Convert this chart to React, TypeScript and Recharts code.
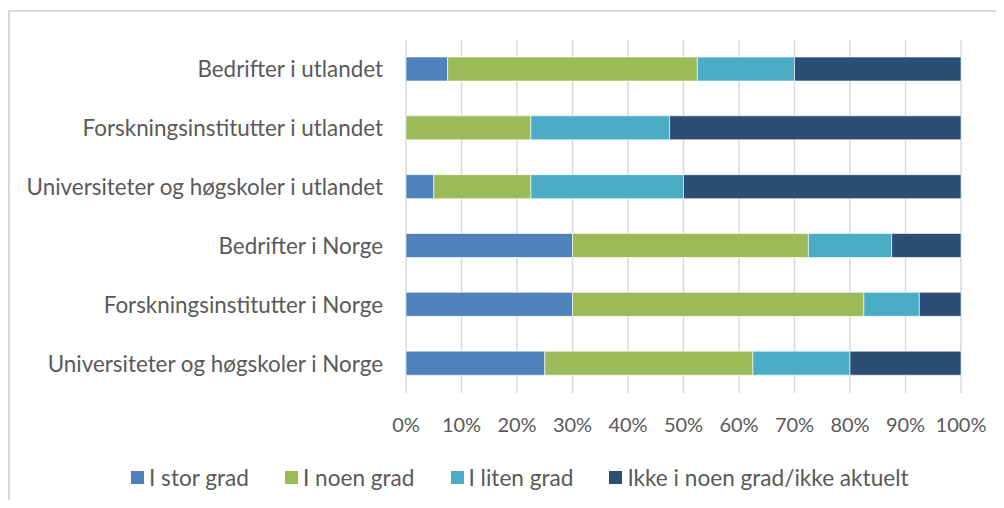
import { BarChart, Bar, XAxis, YAxis, CartesianGrid, Legend } from 'recharts'

const categories = [
  'Bedrifter i utlandet',
  'Forskningsinstitutter i utlandet',
  'Universiteter og høgskoler i utlandet',
  'Bedrifter i Norge',
  'Forskningsinstitutter i Norge',
  'Universiteter og høgskoler i Norge',
]

const seriesNames = ['I stor grad', 'I noen grad', 'I liten grad', 'Ikke i noen grad/ikke aktuelt']
const seriesColors = ['#4F81BD', '#9BBB59', '#4BACC6', '#2C4D75']

// percent per category, top to bottom
const storGrad    = [7.5, 0, 5, 30, 30, 25]
const noenGrad    = [45, 22.5, 17.5, 42.5, 52.5, 37.5]
const litenGrad   = [17.5, 25, 27.5, 15, 10, 17.5]
const ikkeAktuelt = [30, 52.5, 50, 12.5, 7.5, 20]

const xTicks = [0, 10, 20, 30, 40, 50, 60, 70, 80, 90, 100]

const data = categories.map((name, i) => ({
  name,
  s0: storGrad[i],
  s1: noenGrad[i],
  s2: litenGrad[i],
  s3: ikkeAktuelt[i],
}))

const FONT = 'Lato, "Open Sans", sans-serif'
const TEXT = '#595959'

const renderLegend = () => (
  <div style={{ display: 'flex', fontFamily: FONT, fontSize: 22.6, color: TEXT }}>
    {seriesNames.map((n, i) => (
      <div key={n} style={{ display: 'flex', alignItems: 'center', marginRight: 36 }}>
        <span style={{ width: 13, height: 13, background: seriesColors[i], marginRight: 5, display: 'inline-block' }} />
        <span>{n}</span>
      </div>
    ))}
  </div>
)

export default function App() {
  return (
    <div style={{ position: 'relative', width: 996, height: 492, overflow: 'hidden' }}>
      <div
        style={{
          position: 'absolute', left: 0, top: 2, width: 996, height: 490,
          borderTop: '2px solid #d9d9d9', borderLeft: '2px solid #d9d9d9', boxSizing: 'border-box',
        }}
      />
      <div style={{ position: 'absolute', left: 0, top: 0 }}>
        <BarChart
          width={996}
          height={492}
          data={data}
          layout="vertical"
          margin={{ top: 32, right: 43, left: 0, bottom: 77 }}
          barSize={24}
        >
          <CartesianGrid horizontal={false} stroke="#d9d9d9" strokeWidth={1.5} />
          <XAxis
            type="number"
            domain={[0, 100]}
            ticks={xTicks}
            tickFormatter={(v: number) => `${v}%`}
            axisLine={false}
            tickLine={false}
            tickSize={0}
            tickMargin={25}
            interval={0}
            height={30}
            tick={{ fill: TEXT, fontSize: 20, fontFamily: FONT }}
          />
          <YAxis
            type="category"
            dataKey="name"
            width={398}
            axisLine={false}
            tickLine={false}
            tickSize={0}
            tickMargin={23}
            interval={0}
            tick={{ fill: TEXT, fontSize: 22.4, fontFamily: FONT }}
          />
          <Legend
            verticalAlign="middle"
            align="center"
            content={renderLegend}
            wrapperStyle={{ top: 456, left: 123, width: 870 }}
          />
          {seriesNames.map((n, i) => (
            <Bar
              key={n}
              dataKey={`s${i}`}
              name={n}
              stackId="a"
              fill={seriesColors[i]}
              stroke="#ffffff"
              strokeWidth={0.6}
              isAnimationActive={false}
            />
          ))}
        </BarChart>
      </div>
    </div>
  )
}
